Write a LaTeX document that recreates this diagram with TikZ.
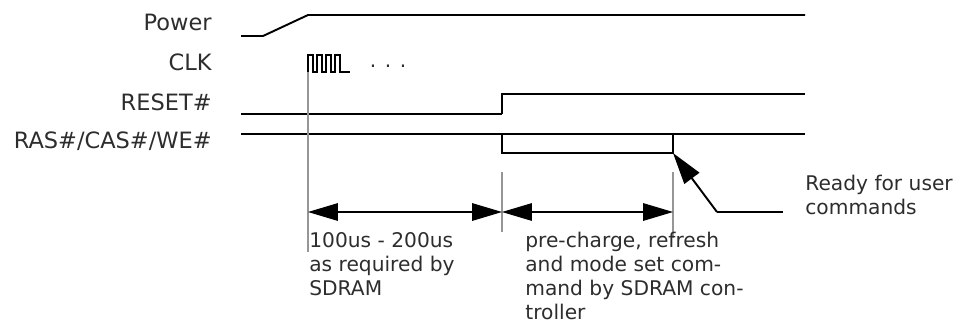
\documentclass[tikz,border=0pt]{standalone}
\usepackage{fontspec}
\setmainfont{DejaVu Sans}
\usepackage{xcolor}
\usepackage{tikz}
\usetikzlibrary{arrows.meta,positioning}
\definecolor{txtgray}{RGB}{45,45,45}
\definecolor{markgray}{RGB}{150,150,150}
\newcommand{\tfont}{\fontsize{11.5pt}{13.6pt}\selectfont}
\newcommand{\sfont}{\fontsize{12.8pt}{14pt}\selectfont}

\begin{document}
\begin{tikzpicture}[
    x=0.02cm, y=-0.02cm,
    sig/.style={line width=1.1pt},
    wire/.style={line width=0.6pt},
    sname/.style={anchor=base east, inner sep=0pt, font=\sfont, text=txtgray},
    note/.style={anchor=north west, inner sep=0pt, align=left, font=\tfont, text=txtgray},
    marker/.style={draw=markgray, line width=1.2pt},
    dim/.style={{Triangle[length=17pt, width=10pt]}-{Triangle[length=17pt, width=10pt]}, line width=0.6pt},
    ptr/.style={-{Triangle[length=18pt, width=10.5pt]}, line width=1.1pt}
]
\useasboundingbox (0,0) rectangle (973,325);

% Signal names
\node[sname] (power) at (212,30) {Power};
\node[sname] (clk) at (212,70) {CLK};
\node[sname] (reset) at (212,110) {RESET\#};
\node[sname] (ras) at (212,148) {RAS\#/CAS\#/WE\#};

% Waveforms
\draw[sig] (241,36) -- (263,36) -- (308,15) -- (805,15);
\draw[sig] (308,72) |- (313,55) |- (317,72) |- (322,55) |- (326,72) |- (331,55)
    |- (335,72) |- (340,55) |- (350,72);
\node[font=\tfont, text=txtgray] (dots) at (388,66) {. . .};
\draw[wire] (241,114) -- (502,114);
\draw[sig] (502,114) -- (502,94) -- (805,94);
\draw[wire] (241,134) -- (805,134);
\draw[sig] (502,134) -- (502,153) -- (673,153) -- (673,134);

% Markers
\draw[marker] (308,72) -- (308,252);
\draw[marker] (502,172) -- (502,232);
\draw[marker] (673,172) -- (673,238);

% Arrows
\coordinate (t0) at (308,212);
\coordinate (t1) at (502,212);
\coordinate (t2) at (673,212);
\coordinate (rasup) at (673,153);
\coordinate (foot) at (717,212);
\coordinate (tail) at (783,212);
\draw[dim] (t0) -- (t1);
\draw[dim] (t1) -- (t2);
\draw[wire] (tail) -- (foot);
\draw[ptr] (foot) -- (rasup);

% Labels
\node[note] (ready) at (805,175) {Ready for user\\commands};
\node[note] (wait) at (309,232) {100us - 200us\\as required by\\SDRAM};
\node[note] (init) at (525,232) {pre-charge, refresh\\and mode set com-\\mand by SDRAM con-\\troller};
\end{tikzpicture}
\end{document}
